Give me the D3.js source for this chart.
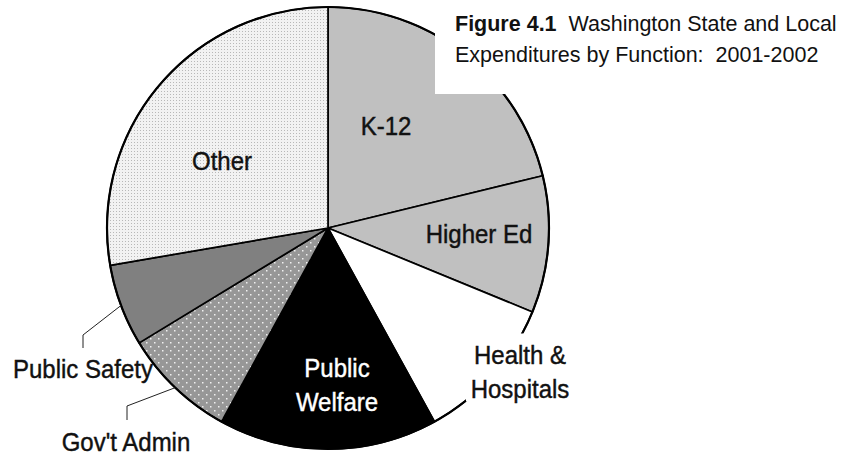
<!DOCTYPE html>
<html lang="en">
<head>
<meta charset="UTF-8"/>
<title>Figure 4.1 Washington State and Local Expenditures by Function</title>
<script src="https://d3js.org/d3.v7.min.js"></script>
<style>
  body { margin: 0; background: #fff; }
  svg { display: block; font-family: "Liberation Sans", Arial, sans-serif; }
</style>
</head>
<body>
<script>
// share of spending (percent), clockwise from 12 o'clock
var categories = ["K-12", "Higher Ed", "Health & Hospitals", "Public Welfare", "Gov't Admin", "Public Safety", "Other"];
var shares     = [21.2, 10.0, 10.8, 16.0, 8.3, 6.0, 27.7];

var titleBold = "Figure 4.1";
var titleRest = "Washington State and Local";
var titleLine2 = "Expenditures by Function:  2001-2002";

var w = 848;
var h = 457;
var cx = 328, cy = 228, radius = 221;

// fills per slice
var fills = ["#c0c0c0", "#c0c0c0", "#ffffff", "#000000", "url(#dotsDark)", "#808080", "url(#dotsLight)"];

// label placement relative to pie centre: x = centre of text, y = first baseline
var labelLayout = {
    "K-12":               { x: 58,  y: -93, lines: ["K-12"] },
    "Higher Ed":          { x: 151, y: 14.5, lines: ["Higher Ed"] },
    "Health & Hospitals": { x: 192, y: 135.5, lines: ["Health &", "Hospitals"], box: true },
    "Public Welfare":     { x: 9,   y: 148.5, lines: ["Public", "Welfare"], color: "#fff" },
    "Gov't Admin":        { x: -202, y: 222.5, lines: ["Gov't Admin"], leader: [[-201, 178], [-201, 192]] },
    "Public Safety":      { x: -245, y: 150, lines: ["Public Safety"], leader: [[-245, 107], [-245, 120]] },
    "Other":              { x: -106, y: -58, lines: ["Other"] }
};

var svg = d3.select("body")
    .append("svg")
    .attr("width", w)
    .attr("height", h);

var defs = svg.append("defs");

// light stipple used for "Other"
var pLight = defs.append("pattern")
    .attr("id", "dotsLight")
    .attr("patternUnits", "userSpaceOnUse")
    .attr("width", 3).attr("height", 3);
pLight.append("rect").attr("width", 3).attr("height", 3).attr("fill", "#f2f2f2");
pLight.append("rect").attr("x", 1).attr("y", 1).attr("width", 1).attr("height", 1).attr("fill", "#b8b8b8");

// grey with white dots for Gov't Admin
var pDark = defs.append("pattern")
    .attr("id", "dotsDark")
    .attr("patternUnits", "userSpaceOnUse")
    .attr("width", 8).attr("height", 8);
pDark.append("rect").attr("width", 8).attr("height", 8).attr("fill", "#979797");
pDark.append("rect").attr("x", 2).attr("y", 2).attr("width", 1.5).attr("height", 1.5).attr("fill", "#f0f0f0");
pDark.append("rect").attr("x", 6).attr("y", 6).attr("width", 1.5).attr("height", 1.5).attr("fill", "#f0f0f0");

var pie = d3.pie().sort(null).value(function (d) { return d; });
var arcs = pie(shares);

var arc = d3.arc().innerRadius(0).outerRadius(radius);

var g = svg.append("g").attr("transform", "translate(" + cx + "," + cy + ")");

g.selectAll("path.slice")
    .data(arcs)
    .enter()
    .append("path")
    .attr("class", "slice")
    .attr("d", arc)
    .attr("fill", function (d, i) { return fills[i]; })
    .attr("stroke", "#000")
    .attr("stroke-width", 1.7)
    .attr("stroke-linejoin", "round");

// heavier rim
g.append("circle")
    .attr("r", radius)
    .attr("fill", "none")
    .attr("stroke", "#000")
    .attr("stroke-width", 2.2);

// leader lines start on the rim at the slice's middle angle
function rimPoint(d) {
    var a = (d.startAngle + d.endAngle) / 2;
    return [radius * Math.sin(a), -radius * Math.cos(a)];
}

arcs.forEach(function (d, i) {
    var lay = labelLayout[categories[i]];
    if (!lay.leader) return;
    var pts = [rimPoint(d)].concat(lay.leader);
    g.append("path")
        .attr("d", d3.line()(pts))
        .attr("fill", "none")
        .attr("stroke", "#222")
        .attr("stroke-width", 1);
});

// labels (font is a touch taller and heavier than Arial)
var fontSize = 24, lineH = 34;
arcs.forEach(function (d, i) {
    var lay = labelLayout[categories[i]];
    var lg = g.append("g").attr("transform", "translate(" + lay.x + "," + lay.y + ")");
    if (lay.box) {
        lg.append("rect")
            .attr("x", -54).attr("y", -30)
            .attr("width", 106).attr("height", 68)
            .attr("fill", "#fff");
    }
    lay.lines.forEach(function (t, k) {
        lg.append("text")
            .attr("transform", "translate(0," + (k * lineH) + ") scale(1,1.08)")
            .attr("text-anchor", "middle")
            .attr("font-size", fontSize + "px")
            .attr("fill", lay.color || "#111")
            .attr("stroke", lay.color || "#111")
            .attr("stroke-width", 0.4)
            .text(t);
    });
});

// title block sits on a white panel over the pie
svg.append("rect")
    .attr("x", 435).attr("y", 0)
    .attr("width", w - 435).attr("height", 94)
    .attr("fill", "#fff");

var t1 = svg.append("text")
    .attr("x", 455).attr("y", 31)
    .attr("font-size", "21.5px")
    .attr("fill", "#111")
    .style("white-space", "pre");
t1.append("tspan").attr("font-weight", "bold").text(titleBold);
t1.append("tspan").text("  " + titleRest);

svg.append("text")
    .attr("x", 455).attr("y", 62)
    .attr("font-size", "21.5px")
    .attr("fill", "#111")
    .style("white-space", "pre")
    .text(titleLine2);
</script>
</body>
</html>
